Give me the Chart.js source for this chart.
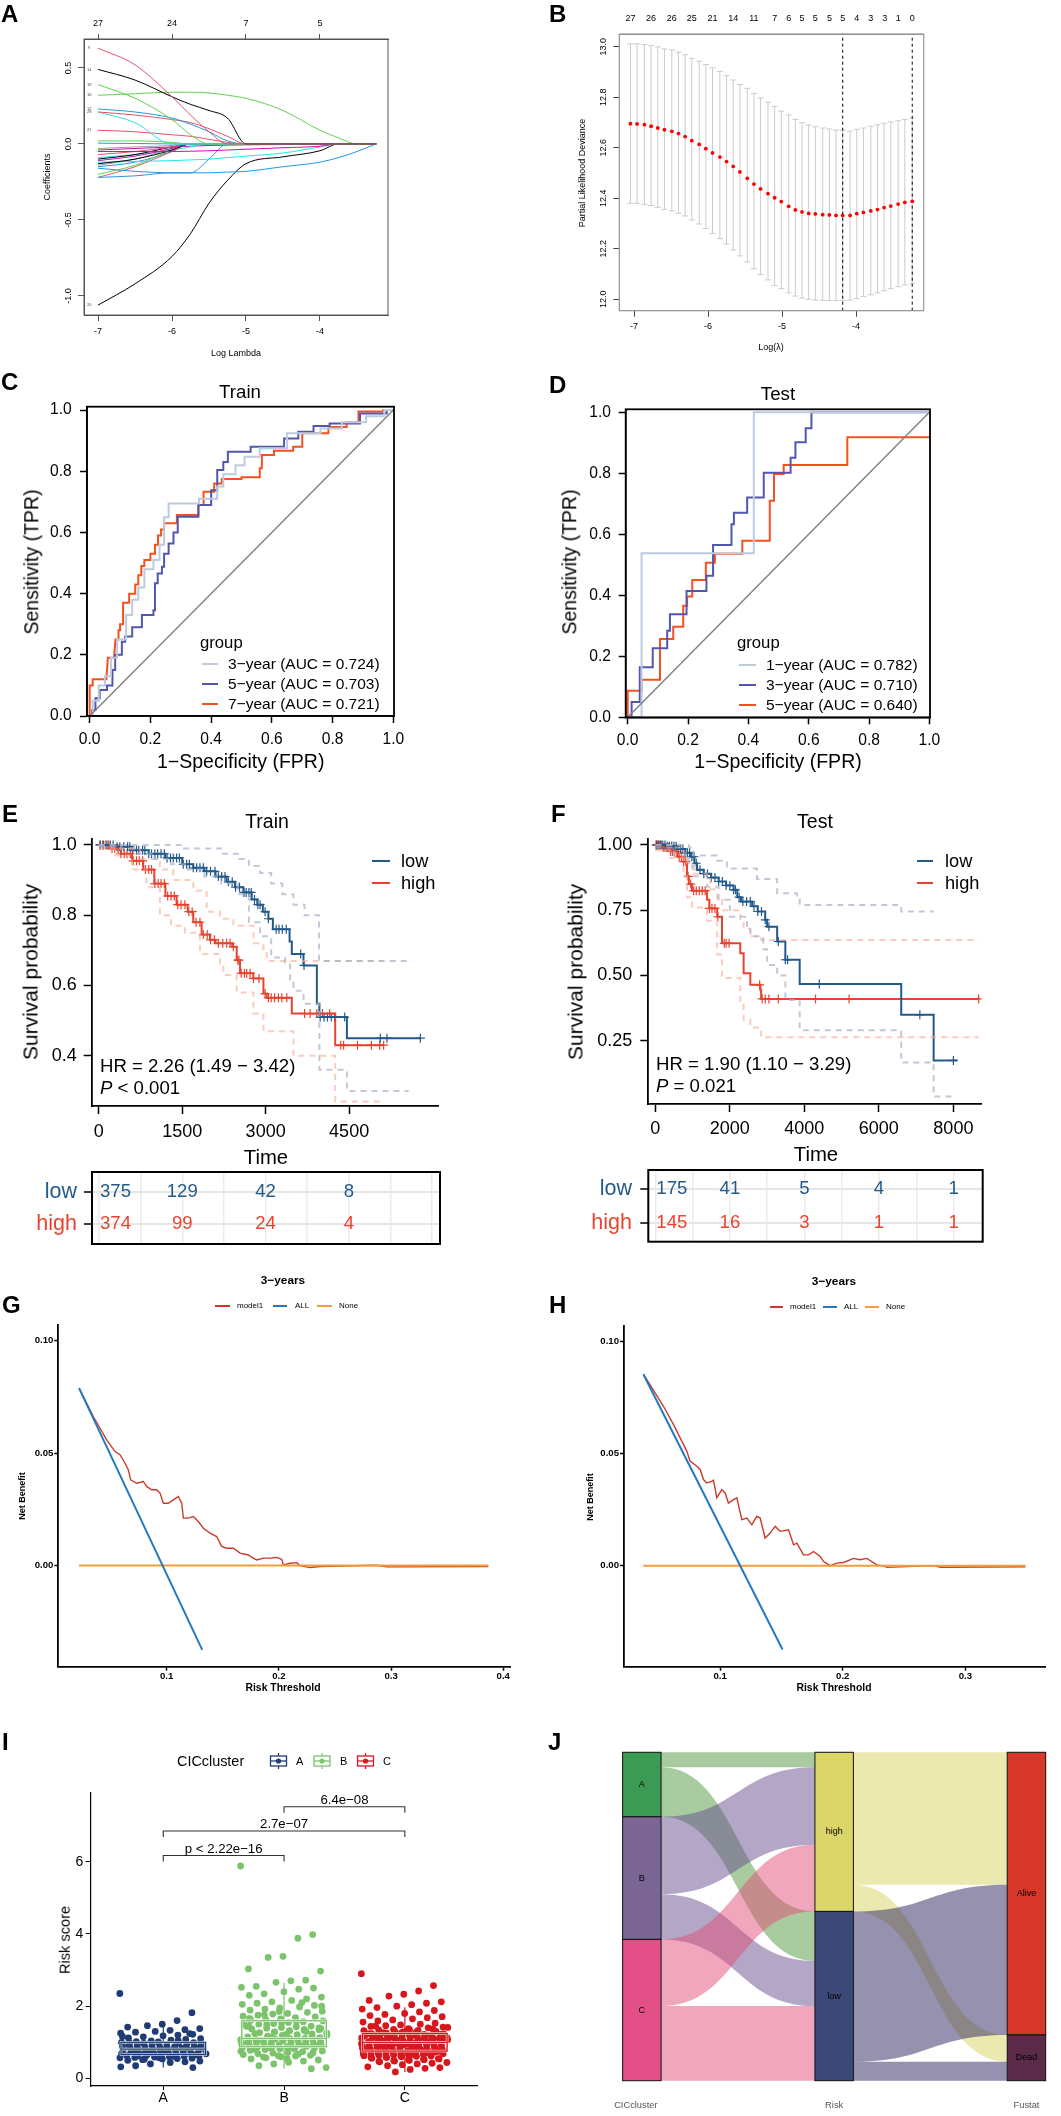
<!DOCTYPE html>
<html><head><meta charset="utf-8">
<script src="https://cdn.jsdelivr.net/npm/chart.js@4.4.1/dist/chart.umd.min.js"></script>
<style>
html,body{margin:0;padding:0;background:#fff;}
#page{position:relative;width:1061px;height:2116px;overflow:hidden;font-family:"Liberation Sans",Arial,Helvetica,sans-serif;}
canvas{position:absolute;}
.t{position:absolute;white-space:nowrap;line-height:1;}
.seg{position:absolute;height:2px;}
</style></head><body><div id="page"></div>
<script>
// ================= DATA =================
// A: LASSO coefficient paths
const lassoLogLambda = [-7.0,-6.5,-6.0,-5.75,-5.5,-5.25,-5.0,-4.5,-4.0,-3.75,-3.5,-3.24];
const lassoCoefPaths = [
  [0.63,0.52,0.31,0.19,0.08,0,0,0,0,0,0,0],
  [0.49,0.42,0.31,0.26,0.22,0.17,0,0,0,0,0,0],
  [0.39,0.30,0.16,0.06,0,0,0,0,0,0,0,0],
  [0.32,0.33,0.34,0.34,0.335,0.32,0.30,0.22,0.09,0.04,0,0],
  [0.23,0.21,0.17,0.13,0.08,0.02,0,0,0,0,0,0],
  [0.21,0.19,0.16,0.14,0.10,0.05,0,0,0,0,0,0],
  [0.21,0.14,0,0,0,0,0,0,0,0,0,0],
  [0.09,0.08,0.06,0.05,0.03,0.01,0,0,0,0,0,0],
  [0.02,0.02,0.01,0,0,0,0,0,0,0,0,0],
  [0.005,0.003,0,0,0,0,0,0,0,0,0,0],
  [-0.03,-0.02,-0.01,0,0,0,0,0,0,0,0,0],
  [-0.05,-0.05,-0.05,-0.048,-0.045,-0.04,-0.035,-0.025,-0.015,0,0,0],
  [-0.07,-0.05,-0.02,0,0,0,0,0,0,0,0,0],
  [-0.10,-0.07,-0.02,0,0,0,0,0,0,0,0,0],
  [-0.11,-0.08,-0.03,0,0,0,0,0,0,0,0,0],
  [-0.13,-0.10,-0.04,0,0,0,0,0,0,0,0,0],
  [-0.12,-0.115,-0.11,-0.105,-0.10,-0.09,-0.08,-0.06,-0.02,0,0,0],
  [-0.16,-0.18,-0.19,-0.19,-0.19,-0.185,-0.18,-0.15,-0.12,-0.09,-0.05,0],
  [-0.22,-0.21,-0.19,-0.19,-0.10,0,0,0,0,0,0,0],
  [-0.20,-0.14,-0.04,0,0,0,0,0,0,0,0,0],
  [-0.22,-0.15,-0.05,0,0,0,0,0,0,0,0,0],
  [-1.06,-0.92,-0.74,-0.59,-0.39,-0.24,-0.13,-0.085,-0.045,0,0,0],
  [-0.14,-0.10,-0.03,0,0,0,0,0,0,0,0,0],
  [-0.09,-0.07,-0.04,-0.02,0,0,0,0,0,0,0,0],
  [-0.15,-0.12,-0.05,0,0,0,0,0,0,0,0,0],
  [-0.04,-0.03,-0.02,-0.015,-0.01,-0.008,-0.006,-0.004,-0.002,0,0,0]
];
const lassoPathLabels = ['9','14','18','16','12','28','','21','','','','','','','','','','','','','','20','','','',''];
const lassoXTicks = [-7,-6,-5,-4];
const lassoYTicks = [-1.0,-0.5,0.0,0.5];
const lassoTopCounts = ['27','24','7','5'];

// B: cross-validation curve
const cvLambda = [-7.05,-6.96,-6.86,-6.77,-6.68,-6.59,-6.49,-6.40,-6.31,-6.22,-6.12,-6.03,-5.94,-5.84,-5.75,-5.66,-5.57,-5.47,-5.38,-5.29,-5.19,-5.10,-5.01,-4.91,-4.82,-4.73,-4.64,-4.55,-4.45,-4.36,-4.27,-4.18,-4.08,-3.99,-3.90,-3.80,-3.71,-3.62,-3.53,-3.43,-3.34,-3.24];
const cvMean = [12.695,12.694,12.691,12.685,12.678,12.671,12.665,12.656,12.644,12.628,12.613,12.596,12.579,12.563,12.545,12.526,12.504,12.479,12.456,12.437,12.418,12.402,12.387,12.368,12.354,12.346,12.340,12.338,12.335,12.334,12.332,12.332,12.332,12.339,12.344,12.350,12.355,12.363,12.369,12.377,12.384,12.388];
const cvUpper = [13.011,13.011,13.008,13.004,12.999,12.991,12.987,12.978,12.968,12.954,12.942,12.929,12.916,12.902,12.885,12.868,12.850,12.835,12.815,12.797,12.780,12.763,12.745,12.730,12.712,12.699,12.690,12.683,12.678,12.674,12.670,12.669,12.666,12.673,12.678,12.685,12.691,12.697,12.702,12.707,12.712,12.718];
const cvLower = [12.380,12.380,12.376,12.371,12.364,12.356,12.350,12.340,12.330,12.314,12.298,12.280,12.261,12.240,12.219,12.195,12.172,12.148,12.121,12.098,12.077,12.055,12.042,12.026,12.013,12.005,12.000,11.997,11.996,11.995,11.995,11.995,11.997,12.003,12.011,12.018,12.026,12.034,12.042,12.050,12.057,12.061];
const cvTopLambda = [-7.05,-6.77,-6.49,-6.22,-5.94,-5.66,-5.38,-5.10,-4.91,-4.73,-4.55,-4.36,-4.18,-3.99,-3.80,-3.61,-3.43,-3.24];
const cvTopCounts = ['27','26','26','25','21','14','11','7','6','5','5','5','5','4','3','3','1','0'];
const cvSelectedLambda = [-4.18,-3.24];
const cvXTicks = [-7,-6,-5,-4];
const cvYTicks = [12.0,12.2,12.4,12.6,12.8,13.0];

// C: ROC train
const rocTrain3 = [[0,0],[0.01,0],[0.01,0.05],[0.03,0.05],[0.03,0.10],[0.05,0.10],[0.05,0.13],[0.07,0.13],[0.07,0.19],[0.09,0.19],[0.09,0.25],[0.12,0.25],[0.12,0.33],[0.14,0.33],[0.14,0.38],[0.16,0.38],[0.16,0.42],[0.18,0.42],[0.18,0.48],[0.21,0.48],[0.21,0.51],[0.23,0.51],[0.23,0.56],[0.245,0.56],[0.245,0.65],[0.26,0.65],[0.26,0.695],[0.36,0.695],[0.36,0.71],[0.42,0.71],[0.42,0.75],[0.44,0.75],[0.44,0.79],[0.48,0.79],[0.48,0.82],[0.51,0.82],[0.51,0.847],[0.56,0.847],[0.56,0.875],[0.65,0.875],[0.65,0.924],[0.76,0.924],[0.76,0.94],[0.83,0.94],[0.83,0.96],[0.91,0.96],[0.91,0.98],[0.97,0.98],[0.97,1.0],[1.0,1.0]];
const rocTrain5 = [[0,0],[0.008,0],[0.008,0.02],[0.019,0.02],[0.019,0.058],[0.033,0.058],[0.033,0.085],[0.057,0.085],[0.057,0.10],[0.075,0.10],[0.075,0.15],[0.084,0.15],[0.084,0.20],[0.106,0.20],[0.106,0.243],[0.117,0.243],[0.117,0.26],[0.14,0.26],[0.14,0.29],[0.172,0.29],[0.172,0.33],[0.21,0.33],[0.21,0.346],[0.215,0.346],[0.215,0.434],[0.224,0.434],[0.224,0.466],[0.238,0.466],[0.238,0.488],[0.245,0.488],[0.245,0.53],[0.26,0.53],[0.26,0.564],[0.276,0.564],[0.276,0.60],[0.29,0.60],[0.29,0.651],[0.358,0.651],[0.358,0.69],[0.40,0.69],[0.40,0.738],[0.42,0.738],[0.42,0.804],[0.44,0.804],[0.44,0.83],[0.455,0.83],[0.455,0.864],[0.53,0.864],[0.53,0.88],[0.64,0.88],[0.64,0.907],[0.687,0.907],[0.687,0.929],[0.737,0.929],[0.737,0.948],[0.79,0.948],[0.79,0.956],[0.89,0.956],[0.89,0.989],[0.978,0.989],[0.978,1.0],[1.0,1.0]];
const rocTrain7 = [[0,0],[0,0.10],[0.01,0.10],[0.01,0.12],[0.055,0.12],[0.06,0.19],[0.08,0.19],[0.085,0.25],[0.095,0.25],[0.095,0.28],[0.10,0.28],[0.10,0.30],[0.11,0.30],[0.11,0.37],[0.13,0.37],[0.13,0.40],[0.15,0.40],[0.15,0.43],[0.16,0.43],[0.16,0.46],[0.17,0.46],[0.17,0.49],[0.18,0.49],[0.18,0.51],[0.20,0.51],[0.20,0.53],[0.215,0.53],[0.215,0.56],[0.225,0.56],[0.225,0.59],[0.235,0.59],[0.235,0.61],[0.245,0.61],[0.245,0.63],[0.287,0.63],[0.287,0.657],[0.358,0.657],[0.358,0.69],[0.375,0.69],[0.375,0.733],[0.41,0.733],[0.41,0.76],[0.435,0.76],[0.435,0.775],[0.50,0.775],[0.50,0.78],[0.56,0.78],[0.56,0.81],[0.567,0.81],[0.567,0.853],[0.607,0.853],[0.607,0.867],[0.67,0.867],[0.67,0.88],[0.70,0.88],[0.70,0.924],[0.786,0.924],[0.786,0.945],[0.846,0.945],[0.846,0.96],[0.885,0.96],[0.885,0.995],[0.967,0.995],[0.967,1.0],[1.0,1.0]];
const rocTrainLabels = ['3\u2212year (AUC = 0.724)','5\u2212year (AUC = 0.703)','7\u2212year (AUC = 0.721)'];

// D: ROC test
const rocTest1 = [[0,0],[0.046,0],[0.046,0.538],[0.418,0.538],[0.418,1.0],[1.0,1.0]];
const rocTest3 = [[0,0],[0.013,0],[0.013,0.05],[0.04,0.05],[0.04,0.164],[0.083,0.164],[0.083,0.226],[0.131,0.226],[0.131,0.284],[0.14,0.284],[0.14,0.338],[0.195,0.338],[0.195,0.414],[0.261,0.414],[0.261,0.464],[0.283,0.464],[0.283,0.565],[0.344,0.565],[0.344,0.633],[0.352,0.633],[0.352,0.671],[0.396,0.671],[0.396,0.721],[0.451,0.721],[0.451,0.802],[0.54,0.802],[0.54,0.851],[0.556,0.851],[0.556,0.902],[0.59,0.902],[0.59,0.948],[0.609,0.948],[0.609,1.0],[1.0,1.0]];
const rocTest5 = [[0,0],[0,0.087],[0.046,0.087],[0.046,0.123],[0.107,0.123],[0.107,0.257],[0.151,0.257],[0.151,0.297],[0.184,0.297],[0.184,0.366],[0.197,0.366],[0.197,0.396],[0.214,0.396],[0.214,0.45],[0.259,0.45],[0.259,0.507],[0.289,0.507],[0.289,0.536],[0.38,0.536],[0.38,0.579],[0.471,0.579],[0.471,0.71],[0.485,0.71],[0.485,0.798],[0.517,0.798],[0.517,0.827],[0.728,0.827],[0.728,0.918],[1.0,0.918]];
const rocTestLabels = ['1\u2212year (AUC = 0.782)','3\u2212year (AUC = 0.710)','5\u2212year (AUC = 0.640)'];
const rocTicks = [0,0.2,0.4,0.6,0.8,1.0];

// E: KM train  [time, survival]
const kmTrainLow = [[0,1],[300,0.995],[600,0.985],[900,0.975],[1200,0.963],[1500,0.945],[1700,0.935],[1900,0.925],[2100,0.91],[2300,0.895],[2450,0.88],[2600,0.865],[2750,0.845],[2850,0.83],[2950,0.81],[3050,0.79],[3130,0.76],[3430,0.725],[3470,0.69],[3680,0.657],[3920,0.548],[3966,0.51],[4460,0.45],[5780,0.45]];
const kmTrainHigh = [[0,1],[200,0.99],[400,0.975],[600,0.955],[800,0.93],[1000,0.89],[1200,0.855],[1400,0.83],[1600,0.81],[1700,0.78],[1850,0.745],[2000,0.73],[2100,0.72],[2400,0.71],[2480,0.672],[2540,0.635],[2780,0.62],[2960,0.577],[3020,0.565],[3470,0.52],[4250,0.43],[5120,0.43]];
const kmTrainLowUpper = [[0,1],[1500,0.99],[2200,0.975],[2500,0.96],[2700,0.94],[2900,0.92],[3100,0.89],[3300,0.86],[3500,0.83],[3700,0.80],[3960,0.67],[5570,0.67]];
const kmTrainLowLower = [[0,0.995],[300,0.99],[700,0.975],[1000,0.96],[1300,0.945],[1600,0.93],[1900,0.91],[2200,0.89],[2500,0.86],[2700,0.78],[2900,0.74],[3100,0.68],[3350,0.66],[3440,0.61],[3500,0.585],[3680,0.548],[3966,0.36],[4460,0.30],[5570,0.30]];
const kmTrainHighUpper = [[0,1],[400,0.99],[740,0.96],[1100,0.93],[1340,0.9],[1700,0.87],[1940,0.81],[2180,0.79],[2420,0.77],[2780,0.72],[2960,0.70],[3020,0.67],[5120,0.67]];
const kmTrainHighLower = [[0,0.99],[300,0.97],[600,0.93],[860,0.88],[1100,0.80],[1300,0.77],[1550,0.75],[1820,0.69],[2180,0.66],[2240,0.63],[2480,0.58],[2780,0.52],[2960,0.47],[3500,0.40],[4250,0.27],[5120,0.27]];
const kmTrainLowCensor = [30,90,150,210,260,330,380,450,520,560,610,680,720,790,830,900,950,1010,1060,1120,1180,1230,1290,1340,1400,1450,1520,1580,1630,1700,1760,1820,1880,1940,2010,2090,2150,2210,2270,2330,2400,2460,2530,2610,2650,2700,2740,2800,2860,2900,2990,3050,3190,3240,3300,3370,3630,3690,3980,4050,4110,4180,4240,4420,5060,5180,5780];
const kmTrainHighCensor = [20,70,130,180,240,290,350,400,460,510,570,620,680,730,790,840,900,950,1010,1070,1120,1180,1240,1300,1360,1420,1480,1550,1620,1680,1750,1820,1880,1950,2010,2080,2150,2230,2300,2360,2420,2500,2520,2560,2620,2660,2720,2780,2880,2990,3050,3100,3160,3230,3290,3380,3700,3800,3920,4020,4150,4350,4400,4650,4900,5050,5120];
const kmTrainXTicks = [0,1500,3000,4500];
const kmTrainYTicks = [0.4,0.6,0.8,1.0];
const riskTimesTrain = [0,1500,3000,4500];
const riskTrainLow = [375,129,42,8];
const riskTrainHigh = [374,99,24,4];

// F: KM test
const kmTestLow = [[0,1],[300,0.995],[600,0.985],[800,0.97],[950,0.955],[1050,0.93],[1120,0.905],[1300,0.89],[1500,0.875],[1700,0.86],[1900,0.845],[2100,0.828],[2200,0.8],[2300,0.783],[2600,0.765],[2750,0.745],[2950,0.713],[3000,0.687],[3270,0.63],[3490,0.56],[3875,0.467],[6600,0.349],[7470,0.174],[8100,0.174]];
const kmTestHigh = [[0,1],[200,0.99],[400,0.975],[600,0.955],[760,0.936],[850,0.88],[900,0.85],[985,0.825],[1390,0.79],[1450,0.757],[1660,0.725],[1790,0.623],[2280,0.585],[2370,0.508],[2550,0.464],[2820,0.444],[2840,0.41],[8680,0.41]];
const kmTestLowUpper = [[0,1],[900,0.99],[1030,0.96],[1650,0.94],[1920,0.91],[2730,0.87],[3270,0.815],[3800,0.795],[3875,0.77],[6600,0.745],[7470,0.745]];
const kmTestLowLower = [[0,0.99],[500,0.96],[900,0.92],[1030,0.88],[1390,0.84],[1700,0.79],[2000,0.725],[2460,0.69],[2550,0.65],[2900,0.6],[3000,0.54],[3270,0.5],[3490,0.406],[3875,0.29],[6600,0.166],[7470,0.036],[8050,0.036]];
const kmTestHighUpper = [[0,1],[500,0.99],[760,0.97],[850,0.93],[985,0.89],[1390,0.87],[1480,0.83],[1660,0.79],[1790,0.75],[2280,0.71],[2370,0.68],[2550,0.65],[2840,0.636],[8680,0.636]];
const kmTestHighLower = [[0,0.98],[400,0.95],[760,0.88],[850,0.80],[985,0.76],[1390,0.71],[1660,0.58],[1790,0.49],[2280,0.39],[2370,0.33],[2550,0.30],[2840,0.263],[8680,0.263]];
const kmTestLowCensor = [30,80,140,200,260,320,380,440,500,560,620,680,740,800,860,920,980,1040,1100,1200,1300,1400,1500,1600,1700,1800,1900,2000,2100,2150,2250,2350,2450,2550,2650,2750,2850,2950,3050,3300,3490,3550,4400,7100,8000];
const kmTestHighCensor = [20,60,110,160,210,260,310,360,410,460,520,580,640,700,760,820,880,950,1030,1100,1180,1260,1340,1450,1520,1600,1680,1850,1900,1980,2800,2870,2950,3050,3300,4300,5200,8680];
const kmTestXTicks = [0,2000,4000,6000,8000];
const kmTestYTicks = [0.25,0.50,0.75,1.00];
const riskTimesTest = [0,2000,4000,6000,8000];
const riskTestLow = [175,41,5,4,1];
const riskTestHigh = [145,16,3,1,1];

// G: DCA train
const dcaTrainAll = [[0.0219,0.0789],[0.1317,-0.0375]];
const dcaTrainNone = [[0.0219,0],[0.3867,0]];
const dcaTrainModel = [[0.0219,0.0789],[0.0346,0.0663],[0.0465,0.0559],[0.0540,0.0507],[0.0584,0.0493],[0.0629,0.0455],[0.0658,0.0426],[0.0679,0.0381],[0.0733,0.0366],[0.0792,0.0374],[0.0822,0.0352],[0.0866,0.0337],[0.0911,0.0337],[0.0941,0.0322],[0.0970,0.0277],[0.1015,0.0277],[0.1059,0.0292],[0.1104,0.0307],[0.1134,0.0277],[0.1149,0.0211],[0.1193,0.0211],[0.1238,0.0218],[0.1282,0.0196],[0.1327,0.0166],[0.1386,0.0144],[0.1446,0.0129],[0.1490,0.0085],[0.1535,0.0077],[0.1594,0.0077],[0.1654,0.0055],[0.1728,0.0047],[0.1772,0.0033],[0.1802,0.0025],[0.1862,0.0033],[0.1921,0.0033],[0.1980,0.0036],[0.2025,0.0028],[0.2040,0.0003],[0.2099,0.0010],[0.2159,0.0013],[0.2188,0.0],[0.2277,-0.0009],[0.2367,-0.0004],[0.2783,0.0],[0.2872,0.0001],[0.2961,-0.0006],[0.3867,-0.0004]];
const dcaTrainXTicks = [0.1,0.2,0.3,0.4];
// H: DCA test
const dcaTestAll = [[0.0374,0.0855],[0.1509,-0.0373]];
const dcaTestNone = [[0.0374,0],[0.3490,0]];
const dcaTestModel = [[0.0374,0.0855],[0.0537,0.0713],[0.0619,0.0631],[0.0728,0.0512],[0.0755,0.0467],[0.0810,0.0444],[0.0837,0.0430],[0.0864,0.0385],[0.0891,0.0370],[0.0932,0.0377],[0.0946,0.0382],[0.0973,0.0303],[0.1014,0.0340],[0.1041,0.0325],[0.1068,0.0280],[0.1109,0.0295],[0.1136,0.0303],[0.1177,0.0206],[0.1218,0.0213],[0.1259,0.0183],[0.1299,0.0221],[0.1327,0.0213],[0.1367,0.0124],[0.1408,0.0146],[0.1449,0.0176],[0.1490,0.0154],[0.1558,0.0161],[0.1599,0.0094],[0.1626,0.0101],[0.1680,0.0049],[0.1721,0.0049],[0.1762,0.0064],[0.1816,0.0042],[0.1844,0.0019],[0.1898,0.0001],[0.1952,0.0012],[0.2007,0.0015],[0.2088,0.0033],[0.2143,0.0027],[0.2197,0.0033],[0.2279,0.0004],[0.2333,0.0],[0.2361,-0.0007],[0.2741,0.0001],[0.2796,-0.0006],[0.3490,-0.0004]];
const dcaTestXTicks = [0.1,0.2,0.3];
const dcaYTicks = [0,0.05,0.10];
const dcaLegend = ['model1','ALL','None'];

// I: risk score by CICcluster
const clusterCats = ['A','B','C'];
const riskScoreA = [2.35,1.82,1.60,1.50,1.46,1.42,1.38,1.35,1.33,1.30,1.28,1.25,1.22,1.20,1.18,1.15,1.12,1.10,1.08,1.06,1.04,1.02,1.00,0.99,0.98,0.97,0.96,0.95,0.94,0.93,0.92,0.91,0.90,0.89,0.88,0.87,0.86,0.85,0.84,0.83,0.82,0.81,0.80,0.80,0.79,0.78,0.77,0.76,0.75,0.74,0.73,0.72,0.71,0.70,0.69,0.68,0.67,0.66,0.65,0.64,0.63,0.62,0.61,0.60,0.59,0.58,0.57,0.56,0.55,0.54,0.52,0.50,0.48,0.46,0.44,0.40,0.35,0.32,0.30,
  1.05,1.01,0.97,0.93,0.89,0.85,0.81,0.77,0.73,0.69,0.65,0.61,0.57,0.53,0.98,0.90,0.83,0.75,0.70,0.62,1.16,1.24,0.88,0.79,0.71];
const riskScoreB = [5.88,3.98,3.88,3.38,3.35,3.03,2.97,2.72,2.70,2.66,2.55,2.52,2.50,2.47,2.40,2.34,2.30,2.25,2.20,2.16,2.12,2.08,2.05,2.02,1.98,1.95,1.92,1.89,1.86,1.83,1.80,1.78,1.75,1.72,1.70,1.68,1.65,1.63,1.61,1.59,1.57,1.55,1.52,1.50,1.48,1.45,1.43,1.41,1.39,1.37,1.35,1.33,1.31,1.29,1.27,1.25,1.23,1.21,1.19,1.17,1.15,1.13,1.11,1.10,1.09,1.08,1.07,1.06,1.05,1.04,1.03,1.02,1.01,1.00,0.99,0.98,0.97,0.96,0.95,0.94,0.93,0.92,0.91,0.90,0.89,0.88,0.87,0.86,0.85,0.84,0.83,0.82,0.80,0.78,0.76,0.74,0.72,0.70,0.68,0.66,0.64,0.62,0.60,0.57,0.54,0.51,0.48,0.45,0.40,0.35,0.30,0.27,
  1.58,1.54,1.49,1.44,1.40,1.36,1.32,1.28,1.24,1.20,1.16,1.12,1.08,1.04,1.00,0.96,0.92,0.88,0.84,0.79,0.75,0.71,0.67,0.63,0.59,1.46,1.38,1.30,1.22,1.14,1.06,0.98,0.90,0.82,1.85,1.76,1.66,2.00,2.10,0.55];
const riskScoreC = [2.90,2.57,2.42,2.33,2.28,2.16,2.12,2.08,2.04,2.00,1.96,1.92,1.88,1.84,1.80,1.77,1.74,1.71,1.68,1.65,1.62,1.59,1.56,1.53,1.50,1.48,1.46,1.44,1.42,1.40,1.38,1.36,1.34,1.32,1.30,1.28,1.26,1.25,1.24,1.23,1.22,1.21,1.20,1.19,1.18,1.17,1.16,1.15,1.14,1.13,1.12,1.11,1.10,1.09,1.08,1.07,1.06,1.05,1.04,1.03,1.02,1.01,1.00,0.99,0.98,0.97,0.96,0.95,0.94,0.93,0.92,0.91,0.90,0.89,0.88,0.87,0.86,0.85,0.84,0.83,0.82,0.81,0.80,0.79,0.78,0.77,0.76,0.75,0.74,0.73,0.72,0.71,0.70,0.69,0.68,0.67,0.66,0.65,0.64,0.63,0.62,0.61,0.60,0.58,0.56,0.54,0.52,0.50,0.48,0.46,0.44,0.42,0.40,0.38,0.35,0.32,0.30,0.28,0.25,0.18,
  1.45,1.41,1.37,1.33,1.29,1.27,1.24,1.22,1.20,1.18,1.16,1.14,1.12,1.10,1.08,1.06,1.04,1.02,1.00,0.98,0.96,0.94,0.92,0.90,0.88,0.86,0.84,0.82,0.80,0.78,0.76,0.74,0.72,0.70,0.68,0.66,0.64,0.62,0.59,0.57,0.55,0.53,0.51,0.49,0.47,1.11,1.05,0.99,0.93,0.87,0.81,0.75,0.69,1.35,1.31,1.19,1.13,1.07,1.01,0.95,0.89,0.83,0.77,0.71,0.65];
const boxQ1 = [0.665,0.877,0.757];
const boxMedian = [0.81,1.108,0.997];
const boxQ3 = [1.0,1.597,1.246];
const boxWhiskLo = [0.30,0.27,0.18];
const boxWhiskHi = [1.50,2.65,1.97];
const bracketFrom = [1,1,2];
const bracketTo = [2,3,3];
const bracketY = [6.17,6.85,7.52];
const bracketLabel = ['p < 2.22e\u221216','2.7e\u221207','6.4e\u221208'];
const riskYTicks = [0,2,4,6];

// J: alluvial
const clusterNames = ['A','B','C'];
const riskNames = ['high','low'];
const fustatNames = ['Alive','Dead'];
const clusterToRisk = [[49,161],[252,147],[217,243]];
const riskToFustat = [[431,87],[489,62]];
const alluvialAxes = ['CICcluster','Risk','Fustat'];

// ================= STYLE / HELPERS =================
const FONT = '"Liberation Sans", Arial, Helvetica, sans-serif';
Chart.defaults.font.family = FONT;
Chart.defaults.color = '#000';
Chart.defaults.animation = false;
Chart.defaults.events = [];
Chart.defaults.plugins.legend.display = false;
Chart.defaults.plugins.tooltip.enabled = false;

const page = document.getElementById('page');
function mk(l,t,w,h){
  const c=document.createElement('canvas');
  c.style.left=l+'px'; c.style.top=t+'px'; c.style.width=w+'px'; c.style.height=h+'px';
  c.width=w; c.height=h; page.appendChild(c); return c;
}
function txt(x,y,s,o){
  o=o||{};
  const d=document.createElement('div'); d.className='t';
  if(o.html) d.innerHTML=s; else d.textContent=s;
  d.style.left=x+'px'; d.style.top=y+'px';
  d.style.fontSize=(o.size||12)+'px';
  if(o.bold) d.style.fontWeight='bold';
  d.style.color=o.color||'#000';
  const ax=o.anchor==='l'?'0':(o.anchor==='r'?'-100%':'-50%');
  d.style.transform='translate('+ax+',-50%)'+(o.rot?' rotate('+o.rot+'deg)':'');
  page.appendChild(d);
}
function letter(x,y,s){ txt(x,y,s,{size:24,bold:true,anchor:'l'}); }
function seg(x1,x2,y,color,h){ const d=document.createElement('div'); d.className='seg'; d.style.left=x1+'px'; d.style.width=(x2-x1)+'px'; d.style.top=(y-(h||2)/2)+'px'; d.style.height=(h||2)+'px'; d.style.background=color; page.appendChild(d); }

function axis(pos,min,max,ticks,o){
  o=o||{};
  const horiz = pos==='top'||pos==='bottom';
  return {
    type:'linear', position:pos, min:min, max:max, reverse:!!o.reverse, display:o.display===undefined?true:o.display,
    afterBuildTicks:function(a){ a.ticks = ticks.map(function(v){return {value:v};}); },
    afterFit:function(s){ if(horiz) s.height=o.size; else s.width=o.size; },
    ticks:{ display:o.labels!==false, autoSkip:false, minRotation:0, maxRotation:0, padding:o.pad||0, color:o.color||'#000',
      font:{size:o.fs||10, weight:o.bold?'bold':'normal'}, callback:o.cb||function(v){return String(v);} },
    grid:{ display:true, drawOnChartArea:!!o.gridOn, color:o.gridColor||'#000', lineWidth:o.gridW||1,
      drawTicks:(o.tl||0)>0, tickLength:o.tl||0, tickColor:o.tc||'#000', tickWidth:o.tw||1 },
    border:{ display:o.border!==false, color:o.bc||'#000', width:o.bw||1 }
  };
}
function chartAt(l,t,w,h,area,yW,xH,tH,cfg){
  const c=mk(l,t,w,h);
  cfg.options = cfg.options||{};
  cfg.options.responsive=false; cfg.options.maintainAspectRatio=false;
  cfg.options.layout={padding:{left:area.l-yW, top:area.t-tH, right:w-area.r, bottom:h-area.b-xH}};
  return new Chart(c,cfg);
}
function frame(color,width){ return {id:'frame', afterDatasetsDraw:function(c){ const a=c.chartArea,x=c.ctx; x.save(); x.strokeStyle=color; x.lineWidth=width; x.strokeRect(a.left,a.top,a.right-a.left,a.bottom-a.top); x.restore(); }}; }
function rotY(offset,fs,color,fmt){ return {id:'rotY', afterDraw:function(c){ const s=c.scales.y,x=c.ctx; x.save(); x.font=fs+'px '+FONT; x.fillStyle=color; x.textAlign='center'; x.textBaseline='middle';
  s.ticks.forEach(function(t){ const py=s.getPixelForValue(t.value); x.save(); x.translate(c.chartArea.left-offset,py); x.rotate(-Math.PI/2); x.fillText(fmt(t.value),0,0); x.restore(); }); x.restore(); }}; }
const pts = function(arr){ return arr.map(function(p){return {x:p[0],y:p[1]};}); };
function survAt(steps,t){ let v=steps[0][1]; for(let i=0;i<steps.length;i++){ if(steps[i][0]<=t) v=steps[i][1]; else break; } return v; }

// ================= PANEL A =================
const lassoColors = ['#DF536B','#000000','#61D04F','#61D04F','#2297E6','#DF536B','#28E2E5','#DF536B','#61D04F','#2297E6','#9E9E9E','#CD0BBC','#DF536B','#000000','#CD0BBC','#000000','#28E2E5','#2297E6','#2297E6','#61D04F','#DF536B','#000000','#9E9E9E','#28E2E5','#2297E6','#CD0BBC'];
chartAt(0,0,530,370,{l:84,t:39,r:388,b:315},84,55,39,{
  type:'line',
  data:{datasets: lassoCoefPaths.map(function(p,i){ return {data:lassoLogLambda.map(function(x,j){return {x:x,y:p[j]};}), borderColor:lassoColors[i], borderWidth:1, pointRadius:0, cubicInterpolationMode:'monotone'}; })},
  options:{scales:{
    x: axis('bottom',-7.19,-3.08,lassoXTicks,{size:55,tl:6,pad:5,fs:9,bc:'#555',tc:'#555'}),
    xTop: axis('top',-7.19,-3.08,lassoXTicks,{size:39,tl:5,pad:5,fs:9,bc:'#555',tc:'#555',cb:function(v,i){return lassoTopCounts[i];}}),
    y: axis('left',-1.125,0.69,lassoYTicks,{size:84,tl:6,labels:false,bc:'#555',tc:'#555'})
  }},
  plugins:[frame('#555',1), rotY(15.7,9,'#000',function(v){return v.toFixed(1);}),
    {id:'plabels', afterDatasetsDraw:function(c){ const x=c.ctx,X=c.scales.x,Y=c.scales.y; x.save(); x.font='4px '+FONT; x.fillStyle='#444'; x.textAlign='center'; x.textBaseline='middle';
      lassoCoefPaths.forEach(function(p,i){ if(lassoPathLabels[i]) x.fillText(lassoPathLabels[i], X.getPixelForValue(-7.12), Y.getPixelForValue(p[0])); }); x.restore(); }}]
});
letter(1,14,'A');
txt(47,177,'Coefficients',{size:9,rot:-90});
txt(236,353,'Log Lambda',{size:9});

// ================= PANEL B =================
chartAt(530,0,531,370,{l:89.3,t:34,r:393.7,b:310.7},89.3,59.3,34,{
  type:'line',
  data:{datasets:[
    {data:cvLambda.map(function(x,i){return {x:x,y:cvMean[i]};}), showLine:false, pointRadius:1.9, pointBackgroundColor:'#ff0000', pointBorderWidth:0},
    {data:[{x:cvSelectedLambda[0],y:11.955},{x:cvSelectedLambda[0],y:13.05}], borderColor:'#000', borderWidth:1, borderDash:[3,3], pointRadius:0},
    {data:[{x:cvSelectedLambda[1],y:11.955},{x:cvSelectedLambda[1],y:13.05}], borderColor:'#000', borderWidth:1, borderDash:[3,3], pointRadius:0}
  ]},
  options:{scales:{
    x: axis('bottom',-7.2,-3.085,cvXTicks,{size:59.3,tl:6,pad:4.6,fs:9,bc:'#888',tc:'#444'}),
    xTop: axis('top',-7.2,-3.085,cvTopLambda,{size:34,tl:0,pad:9.6,fs:9,bc:'#888',cb:function(v,i){return cvTopCounts[i];}}),
    y: axis('left',11.955,13.05,cvYTicks,{size:89.3,tl:6,labels:false,bc:'#888',tc:'#444'})
  }},
  plugins:[frame('#999',1.2), rotY(15.3,9,'#000',function(v){return v.toFixed(1);}),
    {id:'errbars', beforeDatasetsDraw:function(c){ const x=c.ctx,X=c.scales.x,Y=c.scales.y; x.save(); x.strokeStyle='#cbcbcb'; x.lineWidth=1;
      cvLambda.forEach(function(l,i){ const px=X.getPixelForValue(l), pu=Y.getPixelForValue(cvUpper[i]), pl=Y.getPixelForValue(cvLower[i]);
        x.beginPath(); x.moveTo(px,pu); x.lineTo(px,pl); x.moveTo(px-3,pu); x.lineTo(px+3,pu); x.moveTo(px-3,pl); x.lineTo(px+3,pl); x.stroke(); }); x.restore(); }}]
});
letter(549,14,'B');
txt(582,173,'Partial Likelihood Deviance',{size:9,rot:-90});
txt(771,347,'Log(\u03bb)',{size:9});

// ================= PANELS C & D (ROC) =================
const rocColors = ['#bccbdd','#5157b0','#f4511e'];
function rocChart(l,t,area,curves,yPad){
  return chartAt(l,t,530,420,area,area.l,420-area.b,0,{
    type:'line',
    data:{datasets:[{data:[{x:0,y:0},{x:1,y:1}], borderColor:'#7f7f7f', borderWidth:1.4, pointRadius:0}].concat(
      curves.map(function(cv,i){ return {data:pts(cv), borderColor:rocColors[i], borderWidth:2, pointRadius:0}; }))},
    options:{scales:{
      x: axis('bottom',area.xmin,1.002,rocTicks,{size:420-area.b,tl:7,pad:7,fs:15.6,tw:1.5,bw:1.5,cb:function(v){return v.toFixed(1);}}),
      y: axis('left',0,area.ymax,rocTicks,{size:area.l,tl:7,pad:yPad,fs:15.6,tw:1.5,bw:1.5,cb:function(v){return v.toFixed(1);}})
    }},
    plugins:[frame('#000',1.8)]
  });
}
rocChart(0,380,{l:87,t:26.7,r:394,b:336,xmin:-0.0088,ymax:1.011},[rocTrain3,rocTrain5,rocTrain7],8.3);
letter(1,382,'C');
txt(240,392,'Train',{size:18.7});
txt(32,562,'Sensitivity (TPR)',{size:19.5,rot:-90});
txt(240.7,762,'1\u2212Specificity (FPR)',{size:19.5});
txt(200,643,'group',{size:16.7,anchor:'l'});
rocTrainLabels.forEach(function(s,i){ seg(202,218,664+20*i,rocColors[i]); txt(228,664+20*i,s,{size:15.5,anchor:'l'}); });

rocChart(530,380,{l:95.7,t:29.3,r:400,b:337.3,xmin:-0.0066,ymax:1.0098},[rocTest1,rocTest3,rocTest5],7.7);
letter(549,385,'D');
txt(778,394,'Test',{size:18.7});
txt(570,562,'Sensitivity (TPR)',{size:19.5,rot:-90});
txt(778,762,'1\u2212Specificity (FPR)',{size:19.5});
txt(737,643,'group',{size:16.7,anchor:'l'});
rocTestLabels.forEach(function(s,i){ seg(739,756,665+20*i,rocColors[i]); txt(766,665+20*i,s,{size:15.5,anchor:'l'}); });

// ================= PANELS E & F (KM) =================
const KM_LOW='#235a89', KM_HIGH='#e8432f', CI_LOW='rgba(170,176,200,0.7)', CI_HIGH='rgba(248,170,145,0.6)';
function kmChart(l,t,area,xmin,xmax,ymin,ymax,xt,yt,yfmt,low,high,lowU,lowL,highU,highL,lowC,highC,ypad,xpad){
  function step(d,col,w,dash){ return {data:pts(d), stepped:true, borderColor:col, borderWidth:w, borderDash:dash||[], pointRadius:0}; }
  function cens(times,steps,col){ return {data:times.map(function(tm){return {x:tm,y:survAt(steps,tm)};}), showLine:false, pointStyle:'cross', pointRadius:4.5, pointBorderColor:col, pointBorderWidth:1.2}; }
  return chartAt(l,t,530,370,area,area.l,370-area.b,0,{
    type:'line',
    data:{datasets:[step(lowU,CI_LOW,2,[6,5]),step(lowL,CI_LOW,2,[6,5]),step(highU,CI_HIGH,2,[6,5]),step(highL,CI_HIGH,2,[6,5]),
      step(low,KM_LOW,2),step(high,KM_HIGH,2),cens(lowC,low,KM_LOW),cens(highC,high,KM_HIGH)]},
    options:{scales:{
      x: axis('bottom',xmin,xmax,xt,{size:370-area.b,tl:8,pad:xpad,fs:18,tw:1.5,bw:1.8}),
      y: axis('left',ymin,ymax,yt,{size:area.l,tl:8,pad:ypad,fs:18,tw:1.5,bw:1.8,cb:yfmt})
    }}
  });
}
function riskTable(l,t,area,xmin,xmax,ymin,ymax,gridTicks,times,lowN,highN){
  return chartAt(l,t,530,100,area,area.l,0,0,{
    type:'line', data:{datasets:[]},
    options:{scales:{
      x: axis('bottom',xmin,xmax,gridTicks,{size:0,labels:false,gridOn:true,gridColor:'#ebebeb',gridW:1.5,border:false}),
      y: axis('left',ymin,ymax,[0,1],{size:area.l,labels:false,gridOn:true,gridColor:'#e6e6e6',gridW:2,tl:8,tw:1.5,border:false})
    }},
    plugins:[frame('#000',2),{id:'nums', afterDraw:function(c){ const x=c.ctx,X=c.scales.x,Y=c.scales.y; x.save(); x.font='18.6px '+FONT; x.textBaseline='middle';
      [[lowN,1,KM_LOW],[highN,0,KM_HIGH]].forEach(function(r){ r[0].forEach(function(n,i){ x.fillStyle=r[2]; x.textAlign=i===0?'left':'center'; x.fillText(String(n), X.getPixelForValue(times[i])+(i===0?1:0), Y.getPixelForValue(r[1])); }); }); x.restore(); }}]
  });
}
kmChart(0,790,{l:91.7,t:49,r:438.3,b:316},-125,6102,0.257,1.017,kmTrainXTicks,kmTrainYTicks,function(v){return v.toFixed(1);},
  kmTrainLow,kmTrainHigh,kmTrainLowUpper,kmTrainLowLower,kmTrainHighUpper,kmTrainHighLower,kmTrainLowCensor,kmTrainHighCensor,7,7.2);
riskTable(0,1160,{l:92,t:12,r:440,b:84},-125,6140,-0.625,1.625,[0,750,1500,2250,3000,3750,4500,5250,6000],riskTimesTrain,riskTrainLow,riskTrainHigh);
letter(2,814,'E');
txt(267,822,'Train',{size:19.5});
txt(30,972,'Survival probability',{size:21,rot:-90});
txt(266,1157,'Time',{size:20.3});
seg(372,390,861,KM_LOW); txt(401,861,'low',{size:18.2,anchor:'l'});
seg(372,390,883,KM_HIGH); txt(401,883,'high',{size:18.2,anchor:'l'});
txt(100,1066,'HR = 2.26 (1.49 \u2212 3.42)',{size:18.6,anchor:'l'});
txt(100,1088,'<i>P</i> &lt; 0.001',{size:18.6,anchor:'l',html:true});
txt(77,1192,'low',{size:21.5,anchor:'r',color:KM_LOW});
txt(77,1224,'high',{size:21.5,anchor:'r',color:KM_HIGH});

kmChart(530,790,{l:118.3,t:49,r:451.7,b:314},-188,8760,0.007,1.023,kmTestXTicks,kmTestYTicks,function(v){return v.toFixed(2);},
  kmTestLow,kmTestHigh,kmTestLowUpper,kmTestLowLower,kmTestHighUpper,kmTestHighLower,kmTestLowCensor,kmTestHighCensor,8,6.5);
riskTable(530,1160,{l:118.3,t:10,r:452.7,b:81.7},-188,8780,-0.569,1.578,[0,1000,2000,3000,4000,5000,6000,7000,8000],riskTimesTest,riskTestLow,riskTestHigh);
letter(551,814,'F');
txt(815,822,'Test',{size:19.5});
txt(575,972,'Survival probability',{size:21,rot:-90});
txt(816,1154,'Time',{size:20.3});
seg(917,933,861,KM_LOW); txt(945,861,'low',{size:18.2,anchor:'l'});
seg(917,933,883,KM_HIGH); txt(945,883,'high',{size:18.2,anchor:'l'});
txt(656,1064,'HR = 1.90 (1.10 \u2212 3.29)',{size:18.6,anchor:'l'});
txt(656,1086,'<i>P</i> = 0.021',{size:18.6,anchor:'l',html:true});
txt(632,1189,'low',{size:21.5,anchor:'r',color:KM_LOW});
txt(632,1223,'high',{size:21.5,anchor:'r',color:KM_HIGH});

// ================= PANELS G & H (DCA) =================
const DCA_MODEL='#cc3a2a', DCA_ALL='#2479c0', DCA_NONE='#f39c3a';
function dcaChart(l,t,area,xmin,xmax,xt,all,none,model){
  return chartAt(l,t,530,440,area,area.l,440-area.b,0,{
    type:'line',
    data:{datasets:[
      {data:pts(all), borderColor:DCA_ALL, borderWidth:2, pointRadius:0},
      {data:pts(none), borderColor:DCA_NONE, borderWidth:2, pointRadius:0},
      {data:pts(model), borderColor:DCA_MODEL, borderWidth:1.4, pointRadius:0}
    ]},
    options:{scales:{
      x: axis('bottom',xmin,xmax,xt,{size:440-area.b,tl:4,pad:0,fs:9.6,bold:true,tw:1.5,bw:1.8,cb:function(v){return v.toFixed(1);}}),
      y: axis('left',-0.045,0.107,dcaYTicks,{size:area.l,tl:4,pad:1,fs:9.6,bold:true,tw:1.5,bw:1.8,cb:function(v){return v.toFixed(2);}})
    }}
  });
}
dcaChart(0,1270,{l:58.3,t:55,r:510,b:396.7},0.0034,0.406,dcaTrainXTicks,dcaTrainAll,dcaTrainNone,dcaTrainModel);
letter(2,1305,'G');
txt(283,1281,'3\u2212years',{size:11.8,bold:true});
seg(215,230,1306,DCA_MODEL); txt(237,1306,dcaLegend[0],{size:8,anchor:'l'});
seg(273,287,1306,DCA_ALL); txt(295,1306,dcaLegend[1],{size:8,anchor:'l'});
seg(317,332,1306,DCA_NONE); txt(339,1306,dcaLegend[2],{size:8,anchor:'l'});
txt(22,1496,'Net Benefit',{size:9,bold:true,rot:-90});
txt(283,1688,'Risk Threshold',{size:10.4,bold:true});

dcaChart(530,1270,{l:94,t:56,r:515,b:396.7},0.0216,0.365,dcaTestXTicks,dcaTestAll,dcaTestNone,dcaTestModel);
letter(549,1305,'H');
txt(834,1282,'3\u2212years',{size:11.8,bold:true});
seg(770,783,1307,DCA_MODEL); txt(790,1307,dcaLegend[0],{size:8,anchor:'l'});
seg(823,837,1307,DCA_ALL); txt(844,1307,dcaLegend[1],{size:8,anchor:'l'});
seg(865,879,1307,DCA_NONE); txt(886,1307,dcaLegend[2],{size:8,anchor:'l'});
txt(590,1497,'Net Benefit',{size:9,bold:true,rot:-90});
txt(834,1688,'Risk Threshold',{size:10.4,bold:true});

// ================= PANEL I (box + jitter) =================
const boxColors = ['#1f3c74','#7cc46b','#d7161e'];
const scoreGroups = [riskScoreA,riskScoreB,riskScoreC];
function jitterOffset(i){ return ((i*0.6180339 + (i%5)*0.2113) % 1) - 0.5; }
chartAt(0,1700,530,416,{l:90.7,t:93,r:477.3,b:386},90.7,30,0,{
  type:'line',
  data:{datasets: scoreGroups.map(function(g,k){ return {data:g.map(function(v,i){ return {x:(k+1)+jitterOffset(i)*0.72, y:v}; }), showLine:false, pointRadius:3.4, pointBackgroundColor:boxColors[k], pointBorderWidth:0}; })},
  options:{scales:{
    x: axis('bottom',0.399,3.6,[1,2,3],{size:30,tl:4,pad:0,fs:14,tw:1,bw:1.2,cb:function(v,i){return clusterCats[i];}}),
    y: axis('left',-0.21,7.9,riskYTicks,{size:90.7,tl:5,pad:2.4,fs:14,tw:1,bw:1.2})
  }},
  plugins:[{id:'boxes', beforeDatasetsDraw:function(c){ drawBoxes(c,true); }, afterDatasetsDraw:function(c){ drawBoxes(c,false); drawBrackets(c); drawKeys(c); }}]
});
function drawBoxes(c,under){
  const x=c.ctx,X=c.scales.x,Y=c.scales.y; x.save();
  for(let k=0;k<3;k++){
    const cx=X.getPixelForValue(k+1), hw=X.getPixelForValue(k+1.35)-cx;
    const q1=Y.getPixelForValue(boxQ1[k]), q3=Y.getPixelForValue(boxQ3[k]), md=Y.getPixelForValue(boxMedian[k]);
    const lo=Y.getPixelForValue(boxWhiskLo[k]), hi=Y.getPixelForValue(boxWhiskHi[k]);
    if(under){ x.fillStyle='#fff'; x.fillRect(cx-hw,q3,2*hw,q1-q3); x.strokeStyle=boxColors[k]; x.lineWidth=1.2;
      x.beginPath(); x.moveTo(cx,q3); x.lineTo(cx,hi); x.moveTo(cx,q1); x.lineTo(cx,lo); x.stroke(); }
    [[under?0:2.6,'rgba(255,255,255,0.85)'],[1.3,boxColors[k]]].forEach(function(s){ if(!s[0]) return; x.strokeStyle=s[1]; x.lineWidth=s[0];
      x.strokeRect(cx-hw,q3,2*hw,q1-q3); x.beginPath(); x.moveTo(cx-hw,md); x.lineTo(cx+hw,md); x.stroke(); });
  }
  x.restore();
}
function drawBrackets(c){
  const x=c.ctx,X=c.scales.x,Y=c.scales.y; x.save(); x.strokeStyle='#333'; x.lineWidth=1.1; x.fillStyle='#000'; x.font='13.2px '+FONT; x.textAlign='center'; x.textBaseline='alphabetic';
  bracketFrom.forEach(function(f,i){ const a=X.getPixelForValue(f), b=X.getPixelForValue(bracketTo[i]), y=Y.getPixelForValue(bracketY[i]);
    x.beginPath(); x.moveTo(a,y+6); x.lineTo(a,y); x.lineTo(b,y); x.lineTo(b,y+6); x.stroke(); x.fillText(bracketLabel[i],(a+b)/2,y-3); });
  x.restore();
}
function drawKeys(c){
  const x=c.ctx; x.save();
  [270,313.5,357].forEach(function(kx,k){ const cy=61; x.strokeStyle=boxColors[k]; x.lineWidth=1.3; x.fillStyle='#fff';
    x.beginPath(); x.moveTo(kx+8.5,cy-8); x.lineTo(kx+8.5,cy+8); x.stroke();
    x.fillRect(kx+0.5,cy-5,16,10); x.strokeRect(kx+0.5,cy-5,16,10); x.beginPath(); x.moveTo(kx+0.5,cy); x.lineTo(kx+16.5,cy); x.stroke();
    x.fillStyle=boxColors[k]; x.beginPath(); x.arc(kx+8.5,cy,2.6,0,Math.PI*2); x.fill(); });
  x.restore();
}
letter(2,1742,'I');
txt(177,1761,'CICcluster',{size:14.4,anchor:'l'});
txt(296,1761,'A',{size:11,anchor:'l'}); txt(340,1761,'B',{size:11,anchor:'l'}); txt(383,1761,'C',{size:11,anchor:'l'});
txt(65,1940,'Risk score',{size:14.6,rot:-90});

// ================= PANEL J (alluvial) =================
const nodeColors = [['#3b9b55','#7b6595','#e34f87'],['#dcd66a','#3c4878'],['#d7382a','#5b2a48']];
const flowColors1 = ['rgba(81,153,63,0.5)','rgba(103,77,141,0.5)','rgba(225,79,119,0.5)'];
const flowColors2 = ['rgba(215,209,97,0.5)','rgba(43,35,93,0.5)'];
const NODE_W = 0.2;
chartAt(530,1700,531,416,{l:0,t:0,r:531,b:416},0,0,0,{
  type:'line', data:{datasets:[]},
  options:{scales:{ x:{type:'linear',display:false,min:0.4184,max:3.1796}, y:{type:'linear',display:false,reverse:true,min:-170.2,max:1183.9} }},
  plugins:[{id:'alluvial', afterDraw:function(c){
    const x=c.ctx,X=c.scales.x,Y=c.scales.y;
    const px=function(v){return X.getPixelForValue(v);}, py=function(v){return Y.getPixelForValue(v);};
    function band(x0,a0,a1,x1,b0,b1,col){ const A0=py(a0),A1=py(a1),B0=py(b0),B1=py(b1),xm=(x0+x1)/2; x.beginPath(); x.moveTo(x0,A0); x.bezierCurveTo(xm,A0,xm,B0,x1,B0); x.lineTo(x1,B1); x.bezierCurveTo(xm,B1,xm,A1,x0,A1); x.closePath(); x.fillStyle=col; x.fill(); }
    function starts(tot){ const s=[]; let a=0; tot.forEach(function(v){ s.push(a); a+=v; }); return s; }
    const cTot=clusterToRisk.map(function(r){return r[0]+r[1];});
    const rTot=[0,1].map(function(j){return clusterToRisk.reduce(function(s,r){return s+r[j];},0);});
    const fTot=[0,1].map(function(j){return riskToFustat.reduce(function(s,r){return s+r[j];},0);});
    const cS=starts(cTot), rS=starts(rTot), fS=starts(fTot);
    x.save();
    const rIn=rS.slice();
    clusterToRisk.forEach(function(row,i){ let o=cS[i]; row.forEach(function(n,j){ band(px(1+NODE_W/2),o,o+n,px(2-NODE_W/2),rIn[j],rIn[j]+n,flowColors1[i]); o+=n; rIn[j]+=n; }); });
    const fIn=fS.slice();
    riskToFustat.forEach(function(row,i){ let o=rS[i]; row.forEach(function(n,j){ band(px(2+NODE_W/2),o,o+n,px(3-NODE_W/2),fIn[j],fIn[j]+n,flowColors2[i]); o+=n; fIn[j]+=n; }); });
    const cols=[[cTot,cS,clusterNames],[rTot,rS,riskNames],[fTot,fS,fustatNames]];
    x.font='9px '+FONT; x.textAlign='center'; x.textBaseline='middle';
    cols.forEach(function(col,k){ col[0].forEach(function(n,i){ const x0=px(k+1-NODE_W/2), x1=px(k+1+NODE_W/2), y0=py(col[1][i]), y1=py(col[1][i]+n);
      x.fillStyle=nodeColors[k][i]; x.fillRect(x0,y0,x1-x0,y1-y0); x.strokeStyle='#111'; x.lineWidth=1; x.strokeRect(x0,y0,x1-x0,y1-y0);
      x.fillStyle='#000'; x.fillText(col[2][i],(x0+x1)/2,(y0+y1)/2); }); });
    x.fillStyle='#555'; x.font='9.3px '+FONT;
    alluvialAxes.forEach(function(s,k){ x.fillText(s,px(k+1)-(k===0?6:0),py(1069)+25); });
    x.restore();
  }}]
});
letter(548,1742,'J');
</script></body></html>
